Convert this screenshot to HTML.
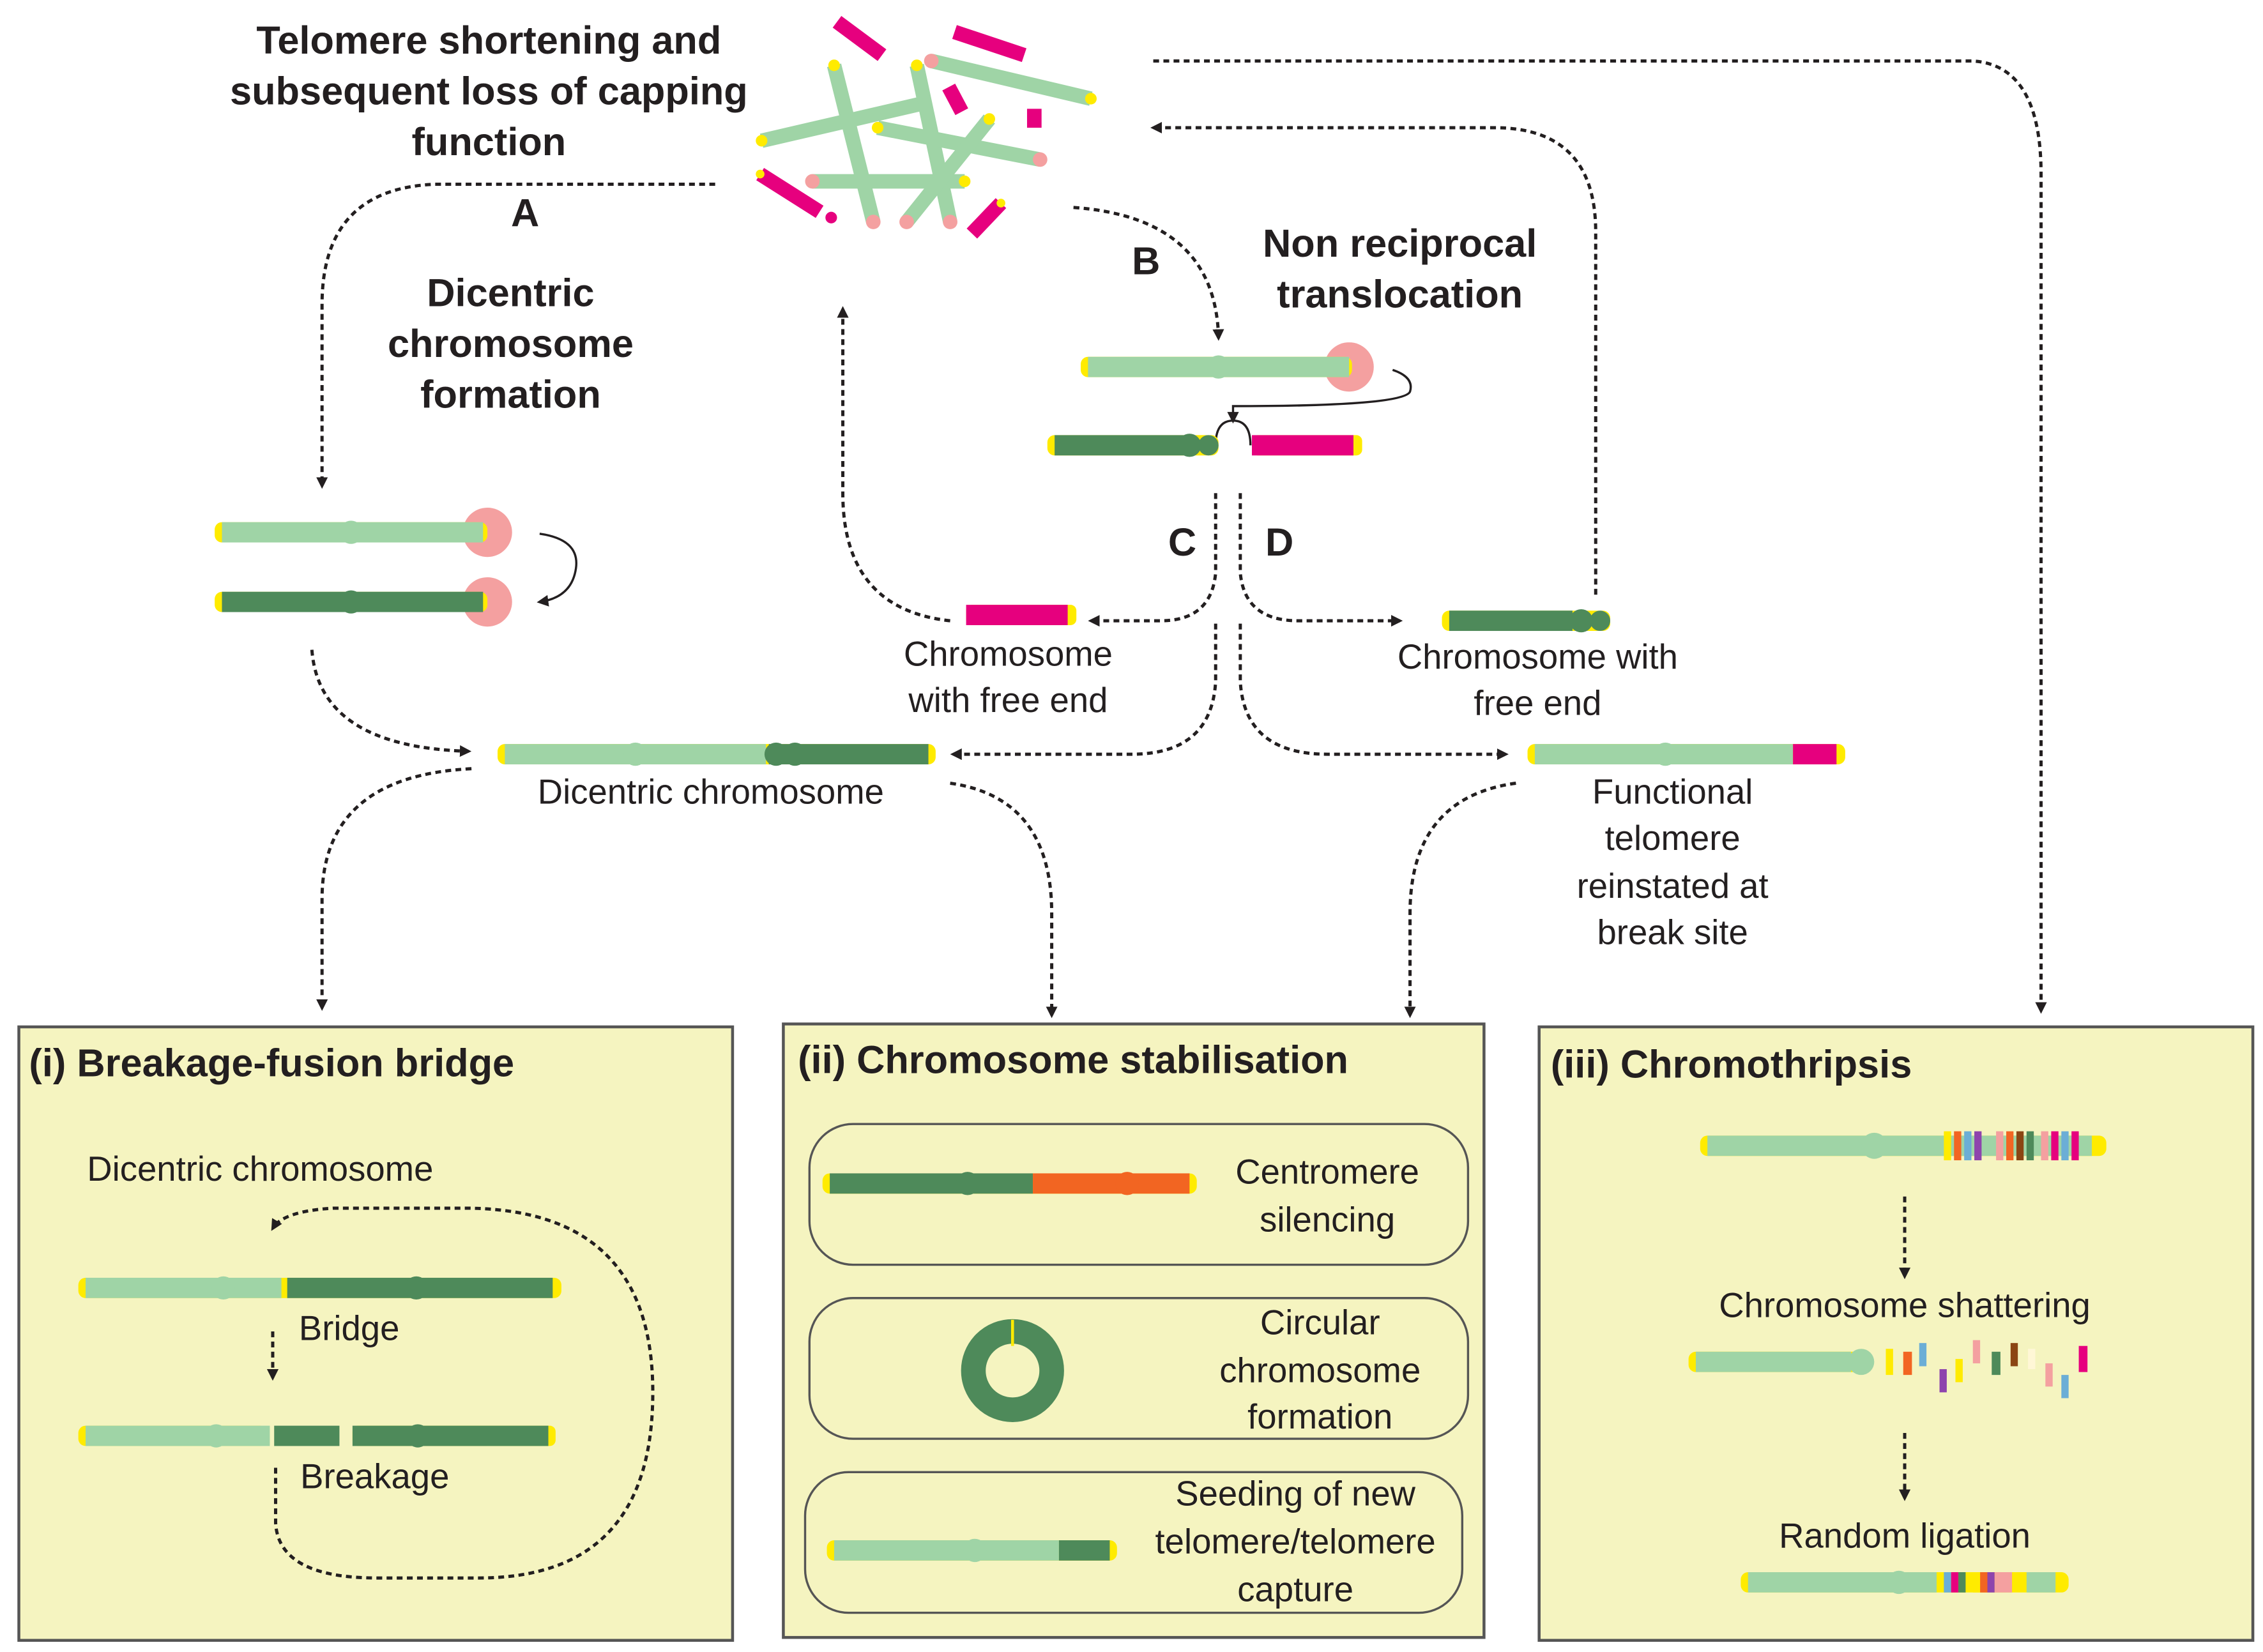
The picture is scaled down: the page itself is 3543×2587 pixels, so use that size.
<!DOCTYPE html>
<html><head><meta charset="utf-8"><style>
html,body{margin:0;padding:0;background:#fff}
svg{display:block}
text{font-family:"Liberation Sans",sans-serif;fill:#231f20}
.b{font-weight:bold}
</style></head><body>
<svg width="3543" height="2587" viewBox="0 0 1560 1139" xmlns="http://www.w3.org/2000/svg">
<defs>
<marker id="ar" markerWidth="8" markerHeight="8" refX="6" refY="4" orient="auto" markerUnits="userSpaceOnUse"><path d="M0,0 L8,4 L0,8 z" fill="#231f20"/></marker>
</defs>
<g fill="none" stroke="#231f20" stroke-width="2.2" stroke-dasharray="4,3" marker-end="url(#ar)">
<path d="M493,127 L300,127 Q222,130 222,210 L222,335"/>
<path d="M215,448 Q220,515 323,518"/>
<path d="M740,143 Q838,150 840,233"/>
<path d="M795,42 L1360,42 Q1407,45 1407,120 L1407,697"/>
<path d="M1100,410 L1100,160 Q1100,88 1030,88 L795,88"/>
<path d="M655,428 Q581,420 581,340 L581,213"/>
<path d="M838,340 L838,395 Q835,428 800,428 L752,428"/>
<path d="M855,340 L855,395 Q858,428 895,428 L965,428"/>
<path d="M838,430 L838,470 Q835,520 780,520 L657,520"/>
<path d="M855,430 L855,470 Q858,520 915,520 L1038,520"/>
<path d="M325,530 Q222,535 222,620 L222,695"/>
<path d="M655,540 Q725,550 725,630 L725,700"/>
<path d="M1045,540 Q972,550 972,630 L972,700"/>
</g>
<g class="b" font-size="27" text-anchor="middle">
<text x="337" y="37" class="b">Telomere shortening and</text>
<text x="337" y="72" class="b">subsequent loss of capping</text>
<text x="337" y="107" class="b">function</text>
<text x="362" y="156" class="b">A</text>
<text x="352" y="211" class="b">Dicentric</text>
<text x="352" y="246" class="b">chromosome</text>
<text x="352" y="281" class="b">formation</text>
<text x="790" y="189" class="b">B</text>
<text x="965" y="177" class="b">Non reciprocal</text>
<text x="965" y="212" class="b">translocation</text>
<text x="815" y="383" class="b">C</text>
<text x="882" y="383" class="b">D</text>
</g>
<g font-size="24" text-anchor="middle">
<text x="695" y="459">Chromosome</text>
<text x="695" y="491">with free end</text>
<text x="1060" y="461">Chromosome with</text>
<text x="1060" y="493">free end</text>
<text x="490" y="554">Dicentric chromosome</text>
<text x="1153" y="554">Functional</text>
<text x="1153" y="586">telomere</text>
<text x="1153" y="619">reinstated at</text>
<text x="1153" y="651">break site</text>
</g>
<g stroke-linecap="butt" stroke-width="10">
<line x1="575" y1="45" x2="602" y2="153" stroke="#9fd4a6"/>
<line x1="632" y1="45" x2="655" y2="153" stroke="#9fd4a6"/>
<line x1="525" y1="97" x2="633" y2="72" stroke="#9fd4a6"/>
<line x1="560" y1="125" x2="665" y2="125" stroke="#9fd4a6"/>
<line x1="605" y1="88" x2="717" y2="110" stroke="#9fd4a6"/>
<line x1="642" y1="42" x2="752" y2="68" stroke="#9fd4a6"/>
<line x1="682" y1="82" x2="625" y2="153" stroke="#9fd4a6"/>
<line x1="577" y1="15" x2="608" y2="38" stroke="#e6007e"/>
<line x1="658" y1="22" x2="706" y2="38" stroke="#e6007e"/>
<line x1="654" y1="60" x2="663" y2="77" stroke="#e6007e"/>
<line x1="713" y1="75" x2="713" y2="88" stroke="#e6007e"/>
<line x1="524" y1="120" x2="565" y2="146" stroke="#e6007e"/>
<line x1="670" y1="161" x2="690" y2="140" stroke="#e6007e"/>
</g>
<g fill="#f4a0a0"><circle cx="602" cy="153" r="5"/><circle cx="655" cy="153" r="5"/><circle cx="625" cy="153" r="5"/><circle cx="560" cy="125" r="5"/><circle cx="717" cy="110" r="5"/><circle cx="642" cy="42" r="5"/><circle cx="573" cy="150" r="4" fill="#e6007e"/></g>
<g fill="#ffeb00"><circle cx="575" cy="45" r="4"/><circle cx="632" cy="45" r="4"/><circle cx="525" cy="97" r="4"/><circle cx="665" cy="125" r="4"/><circle cx="605" cy="88" r="4"/><circle cx="752" cy="68" r="4"/><circle cx="682" cy="82" r="4"/><circle cx="690" cy="140" r="3"/><circle cx="524" cy="120" r="3"/></g>
<circle cx="336" cy="367" r="17" fill="#f4a0a0"/><circle cx="336" cy="415" r="17" fill="#f4a0a0"/>
<rect x="148" y="360" width="188" height="14" rx="5" fill="#ffeb00"/>
<rect x="153" y="360" width="180" height="14" fill="#9fd4a6"/><circle cx="242" cy="367" r="8" fill="#9fd4a6"/>
<rect x="148" y="408" width="188" height="14" rx="5" fill="#ffeb00"/>
<rect x="153" y="408" width="180" height="14" fill="#4e8a5a"/><circle cx="242" cy="415" r="8" fill="#4e8a5a"/>
<path d="M372,368 Q400,372 397,392 Q394,412 372,415" fill="none" stroke="#231f20" stroke-width="1.5" marker-end="url(#ar)"/>
<rect x="343" y="513" width="302" height="14" rx="5" fill="#ffeb00"/>
<rect x="348" y="513" width="180" height="14" fill="#9fd4a6"/><circle cx="438" cy="520" r="8" fill="#9fd4a6"/>
<rect x="530" y="513" width="110" height="14" fill="#4e8a5a"/><circle cx="535" cy="520" r="8" fill="#4e8a5a"/><circle cx="548" cy="520" r="8" fill="#4e8a5a"/>
<circle cx="930" cy="253" r="17" fill="#f4a0a0"/>
<rect x="745" y="246" width="187" height="14" rx="5" fill="#ffeb00"/>
<rect x="750" y="246" width="180" height="14" fill="#9fd4a6"/><circle cx="840" cy="253" r="8" fill="#9fd4a6"/>
<path d="M960,255 Q975,260 972,270 Q968,280 850,280 L850,290" fill="none" stroke="#231f20" stroke-width="1.5" marker-end="url(#ar)"/>
<path d="M838,307 Q838,290 850,290 Q862,290 862,307" fill="none" stroke="#231f20" stroke-width="1.5"/>
<rect x="722" y="300" width="118" height="14" rx="5" fill="#ffeb00"/>
<rect x="727" y="300" width="95" height="14" fill="#4e8a5a"/><circle cx="820" cy="307" r="8" fill="#4e8a5a"/><circle cx="833" cy="307" r="7" fill="#4e8a5a"/>
<rect x="863" y="300" width="76" height="14" rx="4" fill="#ffeb00"/><rect x="863" y="300" width="70" height="14" fill="#e6007e"/>
<rect x="666" y="417" width="76" height="14" rx="4" fill="#ffeb00"/><rect x="666" y="417" width="70" height="14" fill="#e6007e"/>
<rect x="994" y="421" width="116" height="14" rx="5" fill="#ffeb00"/><rect x="999" y="421" width="85" height="14" fill="#4e8a5a"/><circle cx="1090" cy="428" r="8" fill="#4e8a5a"/><circle cx="1103" cy="428" r="7" fill="#4e8a5a"/>
<rect x="1053" y="513" width="219" height="14" rx="5" fill="#ffeb00"/><rect x="1058" y="513" width="178" height="14" fill="#9fd4a6"/><circle cx="1148" cy="520" r="8" fill="#9fd4a6"/><rect x="1236" y="513" width="30" height="14" fill="#e6007e"/>
<g fill="#f5f4c0" stroke="#555" stroke-width="2">
<rect x="13" y="708" width="492" height="423"/>
<rect x="540" y="706" width="483" height="423"/>
<rect x="1061" y="708" width="492" height="423"/>
</g>
<g fill="none" stroke="#231f20" stroke-width="2.2" stroke-dasharray="4,3" marker-end="url(#ar)">
<path d="M1313,825 L1313,880"/>
<path d="M1313,988 L1313,1033"/>
<path d="M188,918 L188,950"/>
<path d="M190,1012 L190,1050 Q192,1088 260,1088 L330,1088 Q450,1088 450,960 Q450,833 320,833 L230,833 Q195,835 188,847"/>
</g>
<g font-size="27" class="b">
<text x="20" y="742" class="b">(i)  Breakage-fusion bridge</text>
<text x="550" y="740" class="b">(ii)  Chromosome stabilisation</text>
<text x="1069" y="743" class="b">(iii)  Chromothripsis</text>
</g>
<g font-size="24">
<text x="60" y="814">Dicentric chromosome</text>
<text x="206" y="924">Bridge</text>
<text x="207" y="1026">Breakage</text>
<g text-anchor="middle">
<text x="915" y="816">Centromere</text><text x="915" y="849">silencing</text>
<text x="910" y="920">Circular</text><text x="910" y="953">chromosome</text><text x="910" y="985">formation</text>
<text x="893" y="1038">Seeding of new</text><text x="893" y="1071">telomere/telomere</text><text x="893" y="1104">capture</text>
<text x="1313" y="908">Chromosome shattering</text>
<text x="1313" y="1067">Random ligation</text>
</g></g>
<rect x="54" y="881" width="333" height="14" rx="5" fill="#ffeb00"/>
<rect x="59" y="881" width="135" height="14" fill="#9fd4a6"/><circle cx="154" cy="888" r="8" fill="#9fd4a6"/>
<rect x="198" y="881" width="183" height="14" fill="#4e8a5a"/><circle cx="287" cy="888" r="8" fill="#4e8a5a"/>
<rect x="54" y="983" width="130" height="14" rx="5" fill="#ffeb00"/>
<rect x="59" y="983" width="127" height="14" fill="#9fd4a6"/><circle cx="149" cy="990" r="8" fill="#9fd4a6"/>
<rect x="189" y="983" width="45" height="14" fill="#4e8a5a"/>
<rect x="243" y="983" width="140" height="14" rx="4" fill="#ffeb00"/>
<rect x="243" y="983" width="135" height="14" fill="#4e8a5a"/><circle cx="288" cy="990" r="8" fill="#4e8a5a"/>
<g fill="none" stroke="#555" stroke-width="1.5">
<rect x="558" y="775" width="454" height="97" rx="30"/>
<rect x="558" y="895" width="454" height="97" rx="30"/>
<rect x="555" y="1015" width="453" height="97" rx="30"/>
</g>
<rect x="567" y="809" width="258" height="14" rx="5" fill="#ffeb00"/>
<rect x="572" y="809" width="140" height="14" fill="#4e8a5a"/><circle cx="667" cy="816" r="8" fill="#4e8a5a"/>
<rect x="712" y="809" width="108" height="14" fill="#f26522"/><circle cx="777" cy="816" r="8" fill="#f26522"/>
<circle cx="698" cy="945" r="27" fill="none" stroke="#4e8a5a" stroke-width="17"/>
<rect x="697" y="910" width="2" height="18" fill="#ffeb00"/>
<rect x="570" y="1062" width="200" height="14" rx="5" fill="#ffeb00"/>
<rect x="575" y="1062" width="155" height="14" fill="#9fd4a6"/><circle cx="672" cy="1069" r="8" fill="#9fd4a6"/>
<rect x="730" y="1062" width="35" height="14" fill="#4e8a5a"/>
<rect x="1172" y="783" width="280" height="14" rx="5" fill="#ffeb00"/>
<rect x="1177" y="783" width="265" height="14" fill="#9fd4a6"/><circle cx="1292" cy="790" r="9" fill="#9fd4a6"/>
<g>
<rect x="1340" y="780" width="5" height="20" fill="#ffeb00"/><rect x="1347" y="780" width="5" height="20" fill="#f26522"/><rect x="1354" y="780" width="5" height="20" fill="#6baed6"/><rect x="1361" y="780" width="5" height="20" fill="#8e44ad"/>
<rect x="1376" y="780" width="5" height="20" fill="#f4a0a0"/><rect x="1383" y="780" width="5" height="20" fill="#f26522"/><rect x="1390" y="780" width="5" height="20" fill="#8b4513"/><rect x="1397" y="780" width="5" height="20" fill="#4e8a5a"/>
<rect x="1407" y="780" width="5" height="20" fill="#f4a0a0"/><rect x="1414" y="780" width="5" height="20" fill="#e6007e"/><rect x="1421" y="780" width="5" height="20" fill="#6baed6"/><rect x="1428" y="780" width="5" height="20" fill="#e6007e"/>
</g>
<rect x="1164" y="932" width="120" height="14" rx="5" fill="#ffeb00"/>
<rect x="1169" y="932" width="107" height="14" fill="#9fd4a6"/><circle cx="1283" cy="939" r="9" fill="#9fd4a6"/>
<g>
<rect x="1300" y="930" width="5" height="18" fill="#ffeb00"/><rect x="1312" y="932" width="6" height="16" fill="#f26522"/><rect x="1323" y="926" width="5" height="16" fill="#6baed6"/><rect x="1337" y="944" width="5" height="16" fill="#8e44ad"/>
<rect x="1348" y="937" width="5" height="16" fill="#ffeb00"/><rect x="1360" y="924" width="5" height="16" fill="#f4a0a0"/><rect x="1373" y="932" width="6" height="16" fill="#4e8a5a"/><rect x="1386" y="926" width="5" height="16" fill="#8b4513"/>
<rect x="1398" y="930" width="5" height="14" fill="#fff7d6"/><rect x="1410" y="940" width="5" height="16" fill="#f4a0a0"/><rect x="1421" y="948" width="5" height="16" fill="#6baed6"/><rect x="1433" y="928" width="6" height="18" fill="#e6007e"/>
</g>
<rect x="1200" y="1084" width="226" height="14" rx="5" fill="#ffeb00"/>
<rect x="1205" y="1084" width="130" height="14" fill="#9fd4a6"/><circle cx="1309" cy="1091" r="8" fill="#9fd4a6"/>
<rect x="1340" y="1084" width="5" height="14" fill="#6baed6"/><rect x="1345" y="1084" width="5" height="14" fill="#e6007e"/><rect x="1350" y="1084" width="5" height="14" fill="#4e8a5a"/>
<rect x="1360" y="1084" width="5" height="14" fill="#ffeb00"/><rect x="1365" y="1084" width="5" height="14" fill="#f26522"/><rect x="1370" y="1084" width="5" height="14" fill="#8e44ad"/><rect x="1375" y="1084" width="12" height="14" fill="#f4a0a0"/>
<rect x="1397" y="1084" width="20" height="14" fill="#9fd4a6"/>
</svg>
</body></html>
